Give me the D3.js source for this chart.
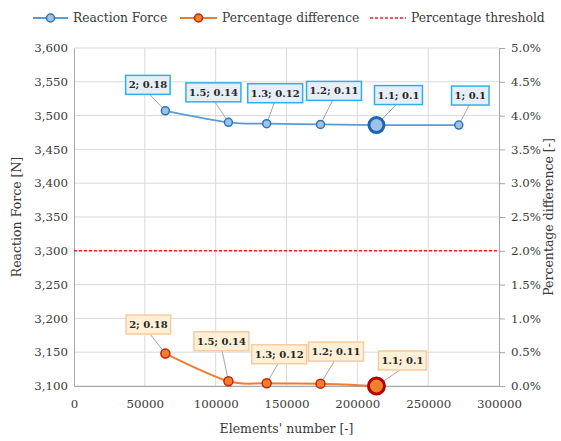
<!DOCTYPE html>
<html>
<head>
<meta charset="utf-8">
<script src="https://cdn.jsdelivr.net/npm/d3@7"></script>
<style>
  html, body { margin: 0; padding: 0; background: #fff; }
</style>
</head>
<body>
<svg id="chart" width="561" height="441"></svg>
<script>
// Mesh refinement study: element count vs. reaction force and difference
const meshLabels   = ["2; 0.18", "1.5; 0.14", "1.3; 0.12", "1.2; 0.11", "1.1; 0.1", "1; 0.1"];
const elements     = [64500, 109000, 136000, 174000, 213500, 271600];
const reactionForce = [3507, 3490, 3488, 3487, 3486, 3486];
const pctDifference = [0.48, 0.07, 0.04, 0.035, 0.0]; // %, last mesh has no entry
const thresholdPct = 2.0;
const selectedIndex = 4;

const xTicks  = [0, 50000, 100000, 150000, 200000, 250000, 300000];
const yTicks  = d3.range(3100, 3601, 50);
const y2Ticks = d3.range(0, 5.01, 0.5);

// label callout offsets from each point (layout only)
const forceLabelOffsets = [[-17.5, -26], [-15, -30], [8.5, -30.5], [13.5, -33.5], [22, -30], [11.5, -29.5]];
const pctLabelOffsets   = [[-17, -29], [-7, -40], [12.5, -29], [15.5, -32], [26, -25.5]];

const FONT = "DejaVu Serif";

const svg = d3.select("#chart");
const m = { left: 74, right: 499, top: 48, bottom: 386 };

const x  = d3.scaleLinear().domain([0, 300000]).range([m.left, m.right]);
const y  = d3.scaleLinear().domain([3100, 3600]).range([m.bottom, m.top]);
const y2 = d3.scaleLinear().domain([0, 5]).range([m.bottom, m.top]);

const gridColor = "#d9d9d9", axisColor = "#a6a6a6", textColor = "#3a3a3a";

// grid
svg.append("g").selectAll("line").data(yTicks).join("line")
  .attr("x1", m.left).attr("x2", m.right)
  .attr("y1", d => y(d)).attr("y2", d => y(d))
  .attr("stroke", gridColor).attr("stroke-width", 1);
svg.append("g").selectAll("line").data(xTicks.slice(1, -1)).join("line")
  .attr("y1", m.top).attr("y2", m.bottom)
  .attr("x1", d => x(d)).attr("x2", d => x(d))
  .attr("stroke", gridColor).attr("stroke-width", 1);

// axes
const fmtForce = d3.format(",");
const gy = svg.append("g").attr("transform", `translate(${m.left},0)`)
  .call(d3.axisLeft(y).tickValues(yTicks).tickFormat(fmtForce).tickSize(0).tickPadding(6));
const gy2 = svg.append("g").attr("transform", `translate(${m.right},0)`)
  .call(d3.axisRight(y2).tickValues(y2Ticks).tickFormat(d => d.toFixed(1) + "%").tickSize(6).tickPadding(6));
const gx = svg.append("g").attr("transform", `translate(0,${m.bottom})`)
  .call(d3.axisBottom(x).tickValues(xTicks).tickFormat(d3.format("d")).tickSize(0).tickPadding(14));

[gy, gy2, gx].forEach(g => {
  g.attr("font-family", FONT).attr("font-size", 11.8);
  g.select(".domain").attr("stroke", axisColor).attr("stroke-width", 1);
  g.selectAll(".tick line").attr("stroke", axisColor);
  g.selectAll(".tick text").attr("fill", textColor);
});

// axis titles
const titles = svg.append("g").attr("font-family", FONT).attr("font-size", 12.5).attr("fill", textColor);
titles.append("text").attr("transform", `translate(17,${(m.top + m.bottom) / 2}) rotate(-90)`)
  .attr("text-anchor", "middle").attr("dominant-baseline", "middle").text("Reaction Force [N]");
titles.append("text").attr("transform", `translate(549,${(m.top + m.bottom) / 2}) rotate(-90)`)
  .attr("text-anchor", "middle").attr("dominant-baseline", "middle").text("Percentage difference [-]");
titles.append("text").attr("x", (m.left + m.right) / 2).attr("y", 433)
  .attr("text-anchor", "middle").text("Elements' number [-]");

// threshold
svg.append("line").attr("x1", m.left).attr("x2", m.right)
  .attr("y1", y2(thresholdPct)).attr("y2", y2(thresholdPct))
  .attr("stroke", "#ff1a1a").attr("stroke-width", 1.5).attr("stroke-dasharray", "3,2");

const curve = d3.curveCardinal.tension(0.1);

// callouts
function callouts(points, offsets, fill, stroke) {
  const g = svg.append("g").attr("font-family", FONT);
  points.forEach((p, i) => {
    const [dx, dy] = offsets[i];
    const cx = p[0] + dx, cy = p[1] + dy;
    const t = g.append("text").attr("x", cx).attr("y", cy)
      .attr("text-anchor", "middle").attr("dominant-baseline", "central")
      .attr("fill", "#262626").attr("font-size", 10).attr("font-weight", "bold")
      .text(meshLabels[i]);
    const bb = t.node().getBBox();
    const bw = bb.width + 6, bh = 19;
    // leader line from the box's bottom edge to the point
    g.insert("line", "text").attr("x1", cx + Math.max(-bw / 2 + 4, Math.min(bw / 2 - 4, (p[0] - cx) * 0.1)))
      .attr("y1", cy + bh / 2).attr("x2", p[0]).attr("y2", p[1])
      .attr("stroke", "#a6a6a6").attr("stroke-width", 1);
    g.insert("rect", "text").attr("x", cx - bw / 2).attr("y", cy - bh / 2)
      .attr("width", bw).attr("height", bh)
      .attr("fill", fill).attr("stroke", stroke).attr("stroke-width", 1.5);
  });
}

// reaction force series
const forcePts = elements.map((e, i) => [x(e), y(reactionForce[i])]);
callouts(forcePts, forceLabelOffsets, "#e6eef8", "#2fb0ea");
svg.append("path").attr("d", d3.line().curve(curve)(forcePts))
  .attr("fill", "none").attr("stroke", "#5b9bd5").attr("stroke-width", 1.75);
svg.append("g").selectAll("circle").data(forcePts).join("circle")
  .attr("cx", d => d[0]).attr("cy", d => d[1])
  .attr("r", (d, i) => i === selectedIndex ? 7.5 : 4)
  .attr("fill", "#9dc3e6")
  .attr("stroke", (d, i) => i === selectedIndex ? "#1f64b4" : "#2e75b6")
  .attr("stroke-width", (d, i) => i === selectedIndex ? 3 : 1.5);

// percentage difference series
const pctPts = pctDifference.map((v, i) => [x(elements[i]), y2(v)]);
callouts(pctPts, pctLabelOffsets, "#fdf0d6", "#f8cba0");
svg.append("path").attr("d", d3.line().curve(curve)(pctPts))
  .attr("fill", "none").attr("stroke", "#ed7d31").attr("stroke-width", 2);
svg.append("g").selectAll("circle").data(pctPts).join("circle")
  .attr("cx", d => d[0]).attr("cy", d => d[1])
  .attr("r", (d, i) => i === selectedIndex ? 8 : 4.5)
  .attr("fill", "#f0802a")
  .attr("stroke", (d, i) => i === selectedIndex ? "#b80000" : "#c8200a")
  .attr("stroke-width", (d, i) => i === selectedIndex ? 3 : 1.5);

// legend
const legend = svg.append("g").attr("font-family", FONT).attr("font-size", 12.3);
const legendItems = [
  { x: 33, w: 35, label: "Reaction Force", stroke: "#5b9bd5", marker: { fill: "#9dc3e6", stroke: "#2e75b6" } },
  { x: 180, w: 37, label: "Percentage difference", stroke: "#ed7d31", marker: { fill: "#f0802a", stroke: "#c8200a" } },
  { x: 370, w: 36, label: "Percentage threshold", stroke: "#ff1a1a", dash: "3,2" }
];
legendItems.forEach(it => {
  const ly = 18;
  legend.append("line").attr("x1", it.x).attr("x2", it.x + it.w).attr("y1", ly).attr("y2", ly)
    .attr("stroke", it.stroke).attr("stroke-width", it.dash ? 1.5 : 2)
    .attr("stroke-dasharray", it.dash || null);
  if (it.marker) {
    legend.append("circle").attr("cx", it.x + it.w / 2).attr("cy", ly).attr("r", 4)
      .attr("fill", it.marker.fill).attr("stroke", it.marker.stroke).attr("stroke-width", 1.5);
  }
  legend.append("text").attr("x", it.x + it.w + 5).attr("y", ly)
    .attr("dominant-baseline", "central").attr("fill", textColor).text(it.label);
});
</script>
</body>
</html>
